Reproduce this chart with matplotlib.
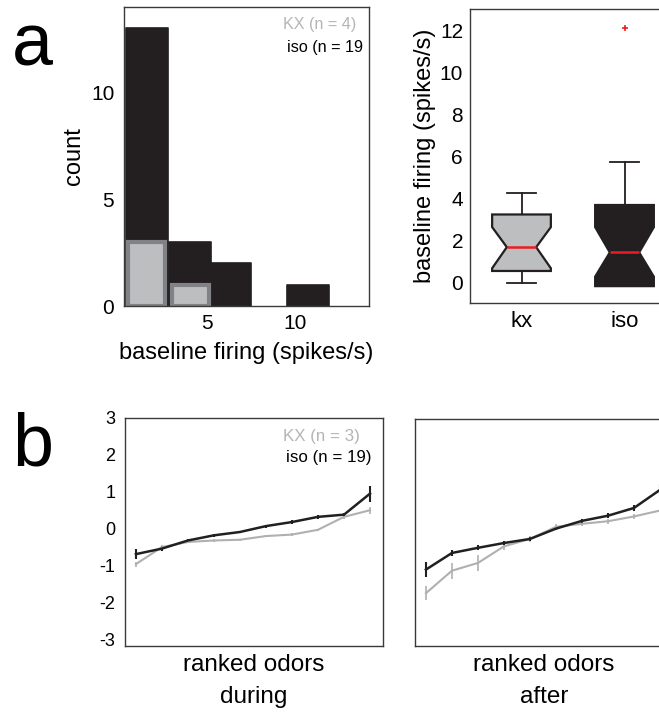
import matplotlib
matplotlib.use("Agg")
import matplotlib.pyplot as plt
import numpy as np

plt.rcParams['font.family'] = ['Liberation Sans', 'DejaVu Sans']
plt.rcParams['axes.unicode_minus'] = False

# ---------------- data ----------------
# panel a: histogram
bin_centers = [1.6, 4.05, 6.35, 8.7, 10.75]
iso_counts = [13, 3, 2, 0, 1]
kx_counts = [3, 1, 0, 0, 0]

# panel a: box plot stats
box_labels = ["kx", "iso"]
box_med = [1.7, 1.45]
box_q1 = [0.57, -0.15]
box_q3 = [3.25, 3.7]
box_whislo = [0.0, -0.15]
box_whishi = [4.25, 5.75]
box_cilo = [0.7, 0.3]
box_cihi = [2.65, 2.65]
box_fliers = [[], [12.1]]

# panel b: ranked odors
ranks = list(range(1, 11))
iso_during = [-0.69, -0.54, -0.32, -0.18, -0.09, 0.07, 0.18, 0.32, 0.38, 0.95]
iso_during_err = [0.13, 0.06, 0.05, 0.04, 0.04, 0.04, 0.05, 0.06, 0.05, 0.22]
kx_during = [-0.96, -0.50, -0.36, -0.32, -0.30, -0.20, -0.16, -0.03, 0.32, 0.50]
kx_during_err = [0.07, 0.05, 0.04, 0.04, 0.03, 0.03, 0.03, 0.03, 0.05, 0.10]
iso_after = [-1.11, -0.66, -0.52, -0.39, -0.28, 0.0, 0.21, 0.35, 0.56, 1.05]
iso_after_err = [0.2, 0.08, 0.07, 0.06, 0.05, 0.05, 0.06, 0.07, 0.08, 0.15]
kx_after = [-1.75, -1.14, -0.93, -0.48, -0.28, 0.05, 0.13, 0.20, 0.33, 0.49]
kx_after_err = [0.19, 0.22, 0.21, 0.1, 0.07, 0.07, 0.07, 0.07, 0.07, 0.07]

BLACK = '#231f20'
LGRAY = '#bcbec0'
MGRAY = '#808285'
TXTGRAY = '#b5b5b5'

fig = plt.figure(figsize=(6.59, 7.13), dpi=100)
W, H = 659, 713

def add_ax(l, t, r, b):
    return fig.add_axes([l / W, 1 - b / H, (r - l) / W, (b - t) / H])

def style(ax):
    for s in ax.spines.values():
        s.set_color('#3a3a3a')
        s.set_linewidth(1.0)
    ax.tick_params(length=0)

# ---- histogram ----
ax1 = add_ax(124, 7, 369, 306)
style(ax1)
bw = 2.35
bc = np.array(bin_centers)
ic = np.array(iso_counts)
kc = np.array(kx_counts)
ax1.bar(bc[ic > 0], ic[ic > 0], width=bw, color=BLACK, edgecolor=BLACK,
        linewidth=1.2, joinstyle='round')
ax1.bar(bc[kc > 0], kc[kc > 0], width=bw - 0.25, color=LGRAY, edgecolor=MGRAY,
        linewidth=3.0)
ax1.set_xlim(0.3, 14.2)
ax1.set_ylim(0, 14)
ax1.set_xticks([5, 10])
ax1.set_yticks([0, 5, 10])
ax1.tick_params(axis='y', labelsize=15, pad=7)
ax1.tick_params(axis='x', labelsize=15, pad=6)
ax1.set_xlabel("baseline firing (spikes/s)", fontsize=17, labelpad=6)
ax1.set_ylabel("count", fontsize=17, labelpad=4)
ax1.text(0.947, 0.94, "KX (n = 4)", color=TXTGRAY, fontsize=11.6,
         transform=ax1.transAxes, ha='right', va='center')
ax1.text(0.975, 0.866, "iso (n = 19", color='black', fontsize=11.6,
         transform=ax1.transAxes, ha='right', va='center')

# ---- box plot ----
ax2 = add_ax(470, 9, 676, 303)
style(ax2)
stats = []
for i in range(2):
    stats.append(dict(med=box_med[i], q1=box_q1[i], q3=box_q3[i],
                      whislo=box_whislo[i], whishi=box_whishi[i],
                      cilo=box_cilo[i], cihi=box_cihi[i],
                      fliers=box_fliers[i], label=box_labels[i]))
bp = ax2.bxp(stats, positions=[1, 2], widths=0.57, shownotches=True,
             patch_artist=True,
             boxprops=dict(linewidth=1.6, edgecolor=BLACK),
             whiskerprops=dict(linewidth=1.3, color=BLACK, linestyle='-'),
             capprops=dict(linewidth=1.3, color=BLACK),
             medianprops=dict(linewidth=1.8, color='#ed1c24'),
             flierprops=dict(marker='+', markeredgecolor='#ed1c24',
                             markersize=5, markeredgewidth=1.2))
bp['boxes'][0].set_facecolor(LGRAY)
bp['boxes'][1].set_facecolor(BLACK)
ax2.set_xlim(0.5, 2.5)
ax2.set_ylim(-0.95, 13)
ax2.set_yticks([0, 2, 4, 6, 8, 10, 12])
ax2.tick_params(axis='y', labelsize=15, pad=5)
ax2.tick_params(axis='x', labelsize=16, pad=6)
ax2.set_ylabel("baseline firing (spikes/s)", fontsize=17, labelpad=3)

# ---- panel b ----
def ranked(ax, iso, iso_e, kx, kx_e):
    ax.errorbar(ranks, kx, yerr=kx_e, color='#b0b0b0', linewidth=1.5,
                elinewidth=1.2, capsize=0)
    ax.errorbar(ranks, iso, yerr=iso_e, color=BLACK, linewidth=1.8,
                elinewidth=1.5, capsize=0)
    ax.set_xlim(0.58, 10.5)
    ax.set_ylim(-3.18, 2.97)
    ax.set_xticks([])
    style(ax)

ax3 = add_ax(125, 418, 383, 646)
ranked(ax3, iso_during, iso_during_err, kx_during, kx_during_err)
ax3.set_yticks([-3, -2, -1, 0, 1, 2, 3])
ax3.tick_params(labelsize=13, pad=7)
ax3.set_xlabel("ranked odors\nduring", fontsize=17.5, labelpad=6, linespacing=1.55)
ax3.text(0.911, 0.917, "KX (n = 3)", color=TXTGRAY, fontsize=12.2,
         transform=ax3.transAxes, ha='right', va='center')
ax3.text(0.957, 0.825, "iso (n = 19)", color='black', fontsize=12.2,
         transform=ax3.transAxes, ha='right', va='center')

ax4 = add_ax(415, 419, 673, 646)
ranked(ax4, iso_after, iso_after_err, kx_after, kx_after_err)
ax4.set_yticks([])
ax4.set_xlabel("ranked odors\nafter", fontsize=17.5, labelpad=6, linespacing=1.55)

fig.text(12 / W, 1 - 65 / H, "a", fontsize=53, va='baseline', ha='left')
fig.text(12 / W, 1 - 465 / H, "b", fontsize=53, va='baseline', ha='left')

fig.savefig("out.png", dpi=100)
